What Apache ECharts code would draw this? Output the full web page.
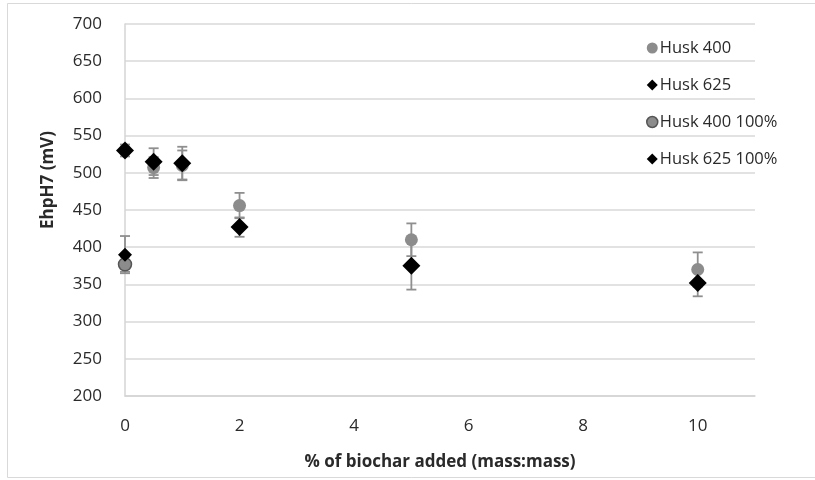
<!DOCTYPE html>
<html>
<head>
<meta charset="utf-8">
<script src="https://cdn.jsdelivr.net/npm/echarts@6/dist/echarts.min.js"></script>
<style>html,body{margin:0;padding:0;background:#fff;}#c{width:815px;height:480px;}</style>
</head>
<body>
<div id="c"></div>
<script>
// Data
const xBiochar = [0, 0.5, 1, 2, 5, 10];
const husk400 = [530, 507, 510, 456, 410, 370];
const husk400Err = [0, 14, 20, 17, 22, 23];
const husk625 = [530, 515, 513, 427, 375, 352];
const husk625Err = [8, 18, 22, 13, 32, 18];
const husk400Full_x = [0];
const husk400Full = [377];
const husk400FullErr = [10];
const husk625Full_x = [0];
const husk625Full = [390];
const husk625FullErr = [25];
const xTicks = [0, 2, 4, 6, 8, 10];
const yTicks = [200, 250, 300, 350, 400, 450, 500, 550, 600, 650, 700];

const FONT = '"Open Sans", "Noto Sans", sans-serif';
const TXT = '#2a2a2a';

function pts(xs, ys) { return xs.map((x, i) => [x, ys[i]]); }
function errData(xs, ys, es) { return xs.map((x, i) => [x, ys[i] - es[i], ys[i] + es[i]]); }

function errSeries(data) {
  return {
    type: 'custom',
    silent: true,
    z: 1,
    renderItem: function (params, api) {
      const x = api.value(0);
      const lo = api.coord([x, api.value(1)]);
      const hi = api.coord([x, api.value(2)]);
      const cw = 5;
      const st = { stroke: '#8f8f8f', lineWidth: 1.8 };
      return {
        type: 'group',
        children: [
          { type: 'line', shape: { x1: lo[0], y1: lo[1], x2: hi[0], y2: hi[1] }, style: st },
          { type: 'line', shape: { x1: lo[0] - cw, y1: lo[1], x2: lo[0] + cw, y2: lo[1] }, style: st },
          { type: 'line', shape: { x1: hi[0] - cw, y1: hi[1], x2: hi[0] + cw, y2: hi[1] }, style: st }
        ]
      };
    },
    encode: { x: 0, y: [1, 2] },
    data: data
  };
}

const chart = echarts.init(document.getElementById('c'), null, { renderer: 'canvas' });
chart.setOption({
  backgroundColor: '#fff',
  animation: false,
  grid: { left: 125, right: 60, top: 24, bottom: 84, containLabel: false },
  xAxis: {
    type: 'value', min: 0, max: 11, interval: 2,
    name: '% of biochar added (mass:mass)', nameLocation: 'middle', nameGap: 58,
    nameTextStyle: { fontFamily: FONT, fontSize: 17, fontWeight: 'bold', color: TXT },
    axisLine: { show: true, lineStyle: { color: '#d4d4d4', width: 1.5 } },
    axisTick: { show: false },
    splitLine: { show: false },
    axisLabel: {
      margin: 22, fontFamily: FONT, fontSize: 17, color: TXT,
      formatter: v => (xTicks.indexOf(v) >= 0 ? String(v) : ''),
      showMaxLabel: false
    }
  },
  yAxis: {
    type: 'value', min: 200, max: 700, interval: 50,
    axisLine: { show: true, lineStyle: { color: '#d4d4d4', width: 1.5 } },
    axisTick: { show: false },
    splitLine: { show: true, lineStyle: { color: '#d9d9d9', width: 1.5 } },
    axisLabel: {
      margin: 23, fontFamily: FONT, fontSize: 17, color: TXT,
      formatter: v => (yTicks.indexOf(v) >= 0 ? String(v) : '')
    }
  },
  legend: {
    orient: 'vertical', left: 641, top: 31, itemGap: 13,
    itemWidth: 11, itemHeight: 11, itemStyle: { borderWidth: 0 },
    textStyle: { fontFamily: FONT, fontSize: 16.5, color: TXT, padding: [0, 0, 0, -3], lineHeight: 24 },
    data: [
      { name: 'Husk 400', icon: 'circle' },
      { name: 'Husk 625', icon: 'diamond' },
      { name: 'Husk 400 100%', icon: 'circle', itemStyle: { borderColor: '#555', borderWidth: 1.5 } },
      { name: 'Husk 625 100%', icon: 'diamond', itemStyle: { borderWidth: 0 } }
    ]
  },
  graphic: [
    { type: 'rect', shape: { x: 7.5, y: 3.5, width: 820, height: 474 }, style: { fill: 'none', stroke: '#d9d9d9', lineWidth: 1 }, z: -1, silent: true },
    { type: 'text', x: 48, y: 180, rotation: Math.PI / 2,
      style: { text: 'EhpH7 (mV)', fontFamily: FONT, fontSize: 17, fontWeight: 'bold', fill: TXT, align: 'center', verticalAlign: 'middle' } }
  ],
  series: [
    errSeries(errData(xBiochar, husk400, husk400Err)),
    errSeries(errData(xBiochar, husk625, husk625Err)),
    errSeries(errData(husk400Full_x, husk400Full, husk400FullErr)),
    errSeries(errData(husk625Full_x, husk625Full, husk625FullErr)),
    { name: 'Husk 400', type: 'scatter', symbol: 'circle', symbolSize: 13, z: 3,
      itemStyle: { color: '#8c8c8c', opacity: 1 }, data: pts(xBiochar, husk400) },
    { name: 'Husk 400 100%', type: 'scatter', symbol: 'circle', symbolSize: 13, z: 3,
      itemStyle: { color: '#8c8c8c', borderColor: '#555', borderWidth: 1.5, opacity: 1 }, data: pts(husk400Full_x, husk400Full) },
    { name: 'Husk 625', type: 'scatter', symbol: 'diamond', symbolSize: 18, z: 4,
      itemStyle: { color: '#000', opacity: 1 }, data: pts(xBiochar, husk625) },
    { name: 'Husk 625 100%', type: 'scatter', symbol: 'diamond', symbolSize: 14, z: 4,
      itemStyle: { color: '#000', opacity: 1 }, data: pts(husk625Full_x, husk625Full) }
  ]
});
</script>
</body>
</html>
